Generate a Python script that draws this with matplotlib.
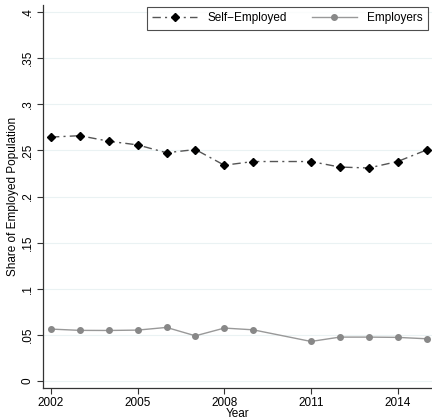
import matplotlib
matplotlib.use("Agg")
import matplotlib.pyplot as plt
from matplotlib import font_manager

# Share of employed population, 2010 not surveyed
years = [2002, 2003, 2004, 2005, 2006, 2007, 2008, 2009, 2011, 2012, 2013, 2014, 2015]
self_employed = [0.2645, 0.266, 0.260, 0.256, 0.2475, 0.251, 0.234, 0.238,
                 0.238, 0.232, 0.231, 0.238, 0.2505]
employers = [0.0564, 0.055, 0.0549, 0.0553, 0.0582, 0.0491, 0.0575, 0.0556,
             0.043, 0.0477, 0.0477, 0.0474, 0.0459]

x_ticks = [2002, 2005, 2008, 2011, 2014]
y_ticks = [0, 0.05, 0.1, 0.15, 0.2, 0.25, 0.3, 0.35, 0.4]
y_tick_labels = ["0", ".05", ".1", ".15", ".2", ".25", ".3", ".35", ".4"]

# use the regular-width Liberation Sans, not the Narrow cut
regular = [f for f in font_manager.findSystemFonts()
           if f.endswith("LiberationSans-Regular.ttf")]
if regular:
    font_manager.fontManager.addfont(regular[0])
    family = font_manager.FontProperties(fname=regular[0]).get_name()
else:
    family = "DejaVu Sans"
plt.rcParams["font.family"] = [family, "DejaVu Sans"]
fp = font_manager.FontProperties(fname=regular[0], size=8.5) if regular else None

fig = plt.figure(figsize=(4.32, 4.19), dpi=100)
ax = fig.add_axes([0.1, 0.073, 0.9, 0.915])

ax.plot(years, self_employed, color="#555555", linestyle=(0, (6, 3, 1.5, 3)),
        linewidth=1.0, marker="D", markersize=4.5, markerfacecolor="black",
        markeredgecolor="black", label="Self\u2212Employed")
ax.plot(years, employers, color="#999999", linewidth=1.0, marker="o",
        markersize=4, markerfacecolor="#888888", markeredgecolor="#888888",
        label="Employers")

ax.set_xlim(2001.73, 2015.19)
ax.set_ylim(-0.0079, 0.4076)
ax.set_xticks(x_ticks)
ax.set_yticks(y_ticks)
ax.set_yticklabels(y_tick_labels, rotation=90, va="center")
ax.tick_params(axis="both", labelsize=8.5, length=4.5, width=0.8, color="#333333")
ax.tick_params(axis="x", pad=2)
ax.tick_params(axis="y", pad=2.5)
for lab in ax.get_xticklabels() + ax.get_yticklabels():
    if fp is not None:
        lab.set_fontproperties(fp)
ax.yaxis.grid(True, color="#eaf2f3", linewidth=0.8)
ax.set_axisbelow(True)

for side in ["top", "right"]:
    ax.spines[side].set_visible(False)
for side in ["left", "bottom"]:
    ax.spines[side].set_color("#333333")
    ax.spines[side].set_linewidth(0.9)

ax.set_xlabel("Year", fontproperties=fp, labelpad=-1)
ax.set_ylabel("Share of Employed Population", fontproperties=fp, labelpad=2)

leg = ax.legend(loc="upper left", bbox_to_anchor=(0.267, 0.995), ncol=2,
                prop=fp, frameon=True, fancybox=False, handlelength=3.8,
                columnspacing=2.1, borderpad=0.45, handletextpad=0.9,
                borderaxespad=0)
leg.get_frame().set_edgecolor("#222222")
leg.get_frame().set_linewidth(0.8)

fig.savefig("out.png", dpi=100)
